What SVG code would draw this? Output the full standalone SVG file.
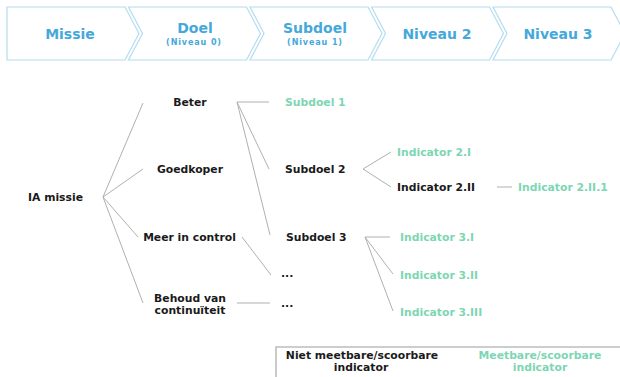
<svg xmlns="http://www.w3.org/2000/svg" width="620" height="377" viewBox="0 0 620 377">
<style>
.chev{fill:#ffffff;stroke:#b3dcf1;stroke-width:1.2}
.ht{font-family:"DejaVu Sans",Verdana,sans-serif;font-weight:bold;font-size:14px;fill:#45a8db;text-anchor:middle}
.hs{font-family:"DejaVu Sans",Verdana,sans-serif;font-weight:bold;font-size:8px;letter-spacing:0.9px;fill:#45a8db;text-anchor:middle}
.t{font-family:"DejaVu Sans",Verdana,sans-serif;font-weight:bold;font-size:10.8px;fill:#1a1a1a}
.g{fill:#7dd6b3}
.m{text-anchor:middle}
.ln{stroke:#b0b0b0;stroke-width:1;fill:none}
.lg{stroke:#bdbdbd;stroke-width:1.6;fill:none}
</style>
<rect width="620" height="377" fill="#ffffff"/>
<g id="header">
  <g id="h-missie">
    <polygon class="chev" points="7,7 125,7 139,33.5 125,60 7,60"/>
    <text class="ht" x="70" y="39">Missie</text>
  </g>
  <g id="h-doel">
    <polygon class="chev" points="128.5,7 246.5,7 260.5,33.5 246.5,60 128.5,60 142.5,33.5"/>
    <text class="ht" x="195" y="33">Doel</text>
    <text class="hs" x="194" y="45">(Niveau 0)</text>
  </g>
  <g id="h-subdoel">
    <polygon class="chev" points="250,7 368,7 382,33.5 368,60 250,60 264,33.5"/>
    <text class="ht" x="315" y="33">Subdoel</text>
    <text class="hs" x="315" y="45">(Niveau 1)</text>
  </g>
  <g id="h-niveau2">
    <polygon class="chev" points="371.5,7 489.5,7 503.5,33.5 489.5,60 371.5,60 385.5,33.5"/>
    <text class="ht" x="437" y="39">Niveau 2</text>
  </g>
  <g id="h-niveau3">
    <polygon class="chev" points="493,7 611,7 625,33.5 611,60 493,60 507,33.5"/>
    <text class="ht" x="558" y="39">Niveau 3</text>
  </g>
</g>
<g id="connectors">
  <path class="ln" d="M103,197 L143,103 M103,197 L143,169 M103,197 L138,237 M103,197 L143,303"/>
  <path class="ln" d="M237,102 L269,102 M237,102 L269,169 M237,102 L270,235"/>
  <path class="ln" d="M242,237 L271,275"/>
  <path class="ln" d="M237,303 L270,303"/>
  <path class="ln" d="M363,169 L391,152 M363,169 L391,187"/>
  <path class="ln" d="M497,187 L512,187"/>
  <path class="ln" d="M365,237 L390,237 M365,237 L393,274 M365,237 L393,311"/>
</g>
<g id="n-ia-missie"><text class="t m" x="55.5" y="201">IA missie</text></g>
<g id="n-beter"><text class="t m" x="190" y="106">Beter</text></g>
<g id="n-goedkoper"><text class="t m" x="190" y="173">Goedkoper</text></g>
<g id="n-meer-in-control"><text class="t m" x="189.5" y="241">Meer in control</text></g>
<g id="n-behoud"><text class="t m" x="190" y="302">Behoud van</text><text class="t m" x="190" y="314">continuïteit</text></g>
<g id="n-subdoel1"><text class="t g" x="285" y="106">Subdoel 1</text></g>
<g id="n-subdoel2"><text class="t" x="285" y="173">Subdoel 2</text></g>
<g id="n-subdoel3"><text class="t" x="286" y="241">Subdoel 3</text></g>
<g id="n-dots1"><text class="t" x="281" y="277">...</text></g>
<g id="n-dots2"><text class="t" x="281" y="307">...</text></g>
<g id="n-ind-2-i"><text class="t g" x="397" y="156">Indicator 2.I</text></g>
<g id="n-ind-2-ii"><text class="t" x="397" y="191">Indicator 2.II</text></g>
<g id="n-ind-2-ii-1"><text class="t g" x="518" y="191">Indicator 2.II.1</text></g>
<g id="n-ind-3-i"><text class="t g" x="400" y="241">Indicator 3.I</text></g>
<g id="n-ind-3-ii"><text class="t g" x="400" y="279">Indicator 3.II</text></g>
<g id="n-ind-3-iii"><text class="t g" x="400" y="316">Indicator 3.III</text></g>
<g id="legend">
  <path class="lg" d="M276,377 L276,347 L620,347"/>
  <text class="t m" x="362" y="359">Niet meetbare/scoorbare</text>
  <text class="t m" x="361" y="371">indicator</text>
  <text class="t g m" x="540" y="359">Meetbare/scoorbare</text>
  <text class="t g m" x="540" y="371">indicator</text>
</g>
</svg>
